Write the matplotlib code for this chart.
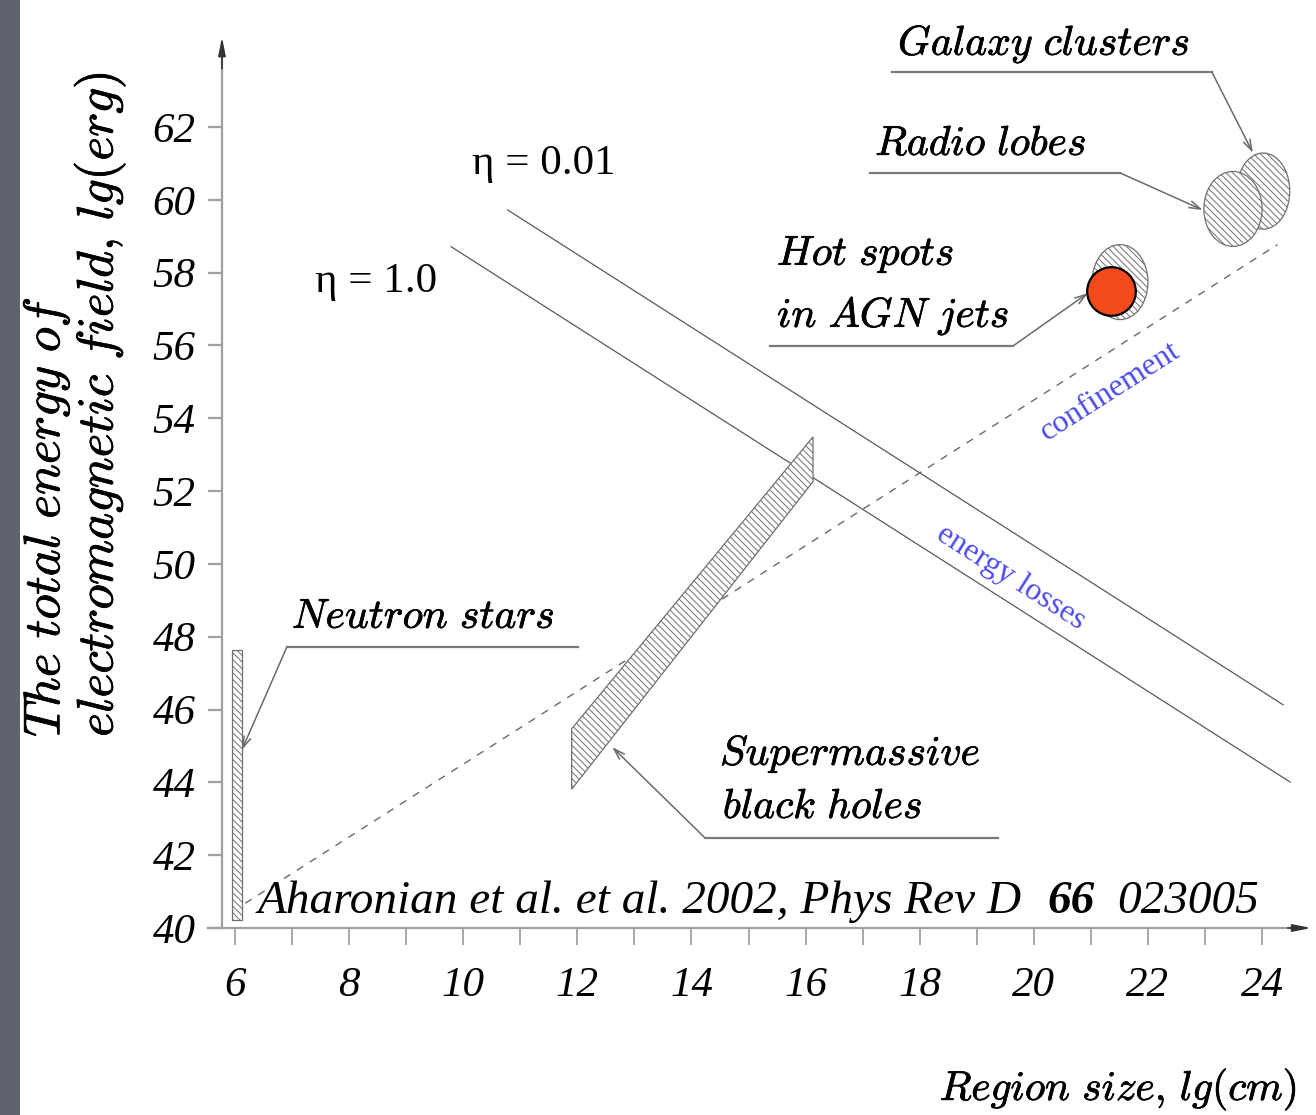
import matplotlib.pyplot as plt
import matplotlib.patheffects as pe
import numpy as np
from matplotlib.patches import Ellipse, Polygon, Rectangle

plt.rcParams["hatch.linewidth"] = 0.7

# axis ticks, lg(cm) and lg(erg)
x_major = [6, 8, 10, 12, 14, 16, 18, 20, 22, 24]
x_minor = [7, 9, 11, 13, 15, 17, 19, 21, 23]
y_major = [40, 42, 44, 46, 48, 50, 52, 54, 56, 58, 60, 62]

# energy-loss limits: lg(E) = offset - lg(R)
eta_names = ["η = 0.01", "η = 1.0"]
eta_offset = [70.5, 68.5]
eta_r_start = [10.78, 9.79]
eta_r_end = [24.37, 24.49]

# confinement limit: lg(E) = lg(R) + offset
conf_offset = 34.5
conf_r = [6.18, 24.27]

# neutron stars (thin band at lg R ~ 6)
ns_r = [5.95, 6.12]
ns_e = [40.22, 47.64]

# supermassive black holes (slanted band)
bh_r = [11.9, 16.13]
bh_e_low = [43.81, 52.26]
bh_e_high = [45.47, 53.49]

# extended sources: centre lg R, centre lg E, width, height
blob_names = ["Galaxy clusters", "Radio lobes", "Hot spots"]
blob_r = [24.02, 23.49, 21.51]
blob_e = [60.24, 59.75, 57.74]
blob_w = [0.93, 1.02, 0.98]
blob_h = [2.09, 2.06, 2.06]

# highlighted hot spot
spot_r = [21.35]
spot_e = [57.50]

LINE = "#5a5a5a"
BOLDEN = [pe.withStroke(linewidth=0.5, foreground="black")]
CM = dict(math_fontfamily="cm", fontsize=30, color="black",
          path_effects=BOLDEN)

fig = plt.figure(figsize=(13.16, 11.15), dpi=100)
fig.patch.set_facecolor("white")
fig.patches.append(Rectangle((0, 0), 20 / 1316, 1, transform=fig.transFigure,
                             facecolor="#5f636d", edgecolor="none", zorder=0))
ax = fig.add_axes([0, 0, 1, 1])
ax.set_xlim(1.8815, 24.945)
ax.set_ylim(34.864, 65.488)
ax.patch.set_alpha(0)

# axes as arrows
for side in ["top", "right"]:
    ax.spines[side].set_visible(False)
ax.spines["left"].set_position(("data", 5.772))
ax.spines["left"].set_bounds(40, 64.1)
ax.spines["bottom"].set_position(("data", 40))
ax.spines["bottom"].set_bounds(5.527, 24.6)
for side in ["left", "bottom"]:
    ax.spines[side].set_color("#a0a0a0")
    ax.spines[side].set_linewidth(1.6)
arrow_head = dict(arrowstyle="-|>,head_length=1.1,head_width=0.22",
                  color="#333333", lw=1.2, shrinkA=0, shrinkB=0)
ax.annotate("", xy=(5.772, 64.47), xytext=(5.772, 63.6), arrowprops=arrow_head)
ax.annotate("", xy=(24.86, 40), xytext=(24.45, 40), arrowprops=arrow_head)

ax.set_xticks(x_major)
ax.set_xticks(x_minor, minor=True)
ax.set_yticks(y_major)
ax.tick_params(axis="x", which="both", direction="out", length=12, width=1.3,
               color="#a0a0a0", pad=16, labelsize=31)
ax.tick_params(axis="y", direction="out", length=10, width=1.6,
               color="#a0a0a0", pad=9, labelsize=31)
for lab in ax.get_xticklabels() + ax.get_yticklabels():
    lab.set_fontfamily("Liberation Serif")
    lab.set_fontstyle("italic")

# limits
for off, r0, r1 in zip(eta_offset, eta_r_start, eta_r_end):
    r = np.array([r0, r1])
    ax.plot(r, off - r, color=LINE, lw=0.9, zorder=2)
r = np.array(conf_r)
ax.plot(r, r + conf_offset, color="#6a6a6a", lw=1.0,
        linestyle=(0, (5.5, 5.5)), zorder=2)

hatch_kw = dict(facecolor="white", edgecolor="#707070", hatch="\\\\\\\\\\",
                lw=0.9, zorder=3)
ax.add_patch(Rectangle((ns_r[0], ns_e[0]), ns_r[1] - ns_r[0],
                       ns_e[1] - ns_e[0], **hatch_kw))
ax.add_patch(Polygon([(bh_r[0], bh_e_low[0]), (bh_r[0], bh_e_high[0]),
                      (bh_r[1], bh_e_high[1]), (bh_r[1], bh_e_low[1])],
                     closed=True, **hatch_kw))
for r0, e0, w, h in zip(blob_r, blob_e, blob_w, blob_h):
    ax.add_patch(Ellipse((r0, e0), w, h, **hatch_kw))
ax.plot(spot_r, spot_e, "o", ms=35, mfc="#f34a1c", mec="black", mew=1.6,
        zorder=5)

# labels with leader lines: text pos, underline start/end, arrow tip
lead = dict(color="#7a7a7a", lw=1.6, zorder=4)
arrow_kw = dict(arrowstyle="->,head_length=0.8,head_width=0.25",
                color="#6a6a6a", lw=1.1, shrinkA=0, shrinkB=0)
labels = [
    (r"$\mathit{Galaxy\ clusters}$", (17.62, 63.98), (17.51, 23.12), 63.51,
     (23.12, 63.51), (23.84, 61.29)),
    (r"$\mathit{Radio\ lobes}$", (17.22, 61.23), (17.13, 21.51), 60.74,
     (21.51, 60.74), (22.96, 59.72)),
    (r"$\mathit{Neutron\ stars}$", (7.0, 48.24), (6.91, 12.01), 47.72,
     (6.91, 47.72), (6.12, 44.89)),
]
for txt, pos, (u0, u1), uy, start, tip in labels:
    ax.text(pos[0], pos[1], txt, ha="left", va="baseline", **CM)
    ax.plot([u0, u1], [uy, uy], **lead)
    ax.annotate("", xy=tip, xytext=start, arrowprops=arrow_kw, zorder=4)

ax.text(15.50, 58.21, r"$\mathit{Hot\ spots}$", ha="left", va="baseline", **CM)
ax.text(15.50, 56.51, r"$\mathit{in\ AGN\ jets}$", ha="left", va="baseline", **CM)
ax.plot([15.38, 19.63], [55.98, 55.98], **lead)
ax.annotate("", xy=(20.95, 57.44), xytext=(19.63, 55.98), arrowprops=arrow_kw)

ax.text(14.50, 44.48, r"$\mathit{Supermassive}$", ha="left", va="baseline", **CM)
ax.text(14.55, 43.02, r"$\mathit{black\ holes}$", ha="left", va="baseline", **CM)
ax.plot([14.24, 19.37], [42.47, 42.47], **lead)
ax.annotate("", xy=(12.61, 44.97), xytext=(14.24, 42.47), arrowprops=arrow_kw)

# eta labels
ax.text(10.15, 60.71, eta_names[0], family="Liberation Serif", fontsize=31,
        ha="left", va="baseline")
ax.text(7.40, 57.47, eta_names[1], family="Liberation Serif", fontsize=31,
        ha="left", va="baseline")

ang = np.degrees(np.arctan(36.41 / 57.06))
ax.text(21.33, 54.72, "confinement", family="Liberation Serif", fontsize=23,
        color="#4b4bf0", rotation=ang, rotation_mode="anchor",
        ha="center", va="center")
ax.text(19.60, 49.61, "energy losses", family="Liberation Serif", fontsize=23,
        color="#4b4bf0", rotation=-ang, rotation_mode="anchor",
        ha="center", va="center")

# reference
ax.text(6.40, 40.41, "Aharonian et al. et al. 2002, Phys Rev D",
        family="Liberation Serif", style="italic", fontsize=34,
        ha="left", va="baseline", zorder=6)
ax.text(20.23, 40.41, "66", family="Liberation Serif", style="italic",
        weight="bold", fontsize=34, ha="left", va="baseline", zorder=6)
ax.text(21.46, 40.41, "023005", family="Liberation Serif", style="italic",
        fontsize=34, ha="left", va="baseline", zorder=6)

# axis titles
ax.text(24.61, 35.28, r"$\mathit{Region\ size,\,lg(cm)}$", ha="right",
        va="baseline", **CM)
ax.text(2.688, 45.25, r"$\mathit{The\ total\ energy\ of}$", rotation=90,
        ha="center", va="bottom", math_fontfamily="cm", fontsize=37,
        path_effects=BOLDEN)
ax.text(3.634, 45.25, r"$\mathit{electromagnetic\ field,\,lg(erg)}$",
        rotation=90, ha="center", va="bottom", math_fontfamily="cm",
        fontsize=37, path_effects=BOLDEN)

fig.savefig("out.png", dpi=100, facecolor="white")
